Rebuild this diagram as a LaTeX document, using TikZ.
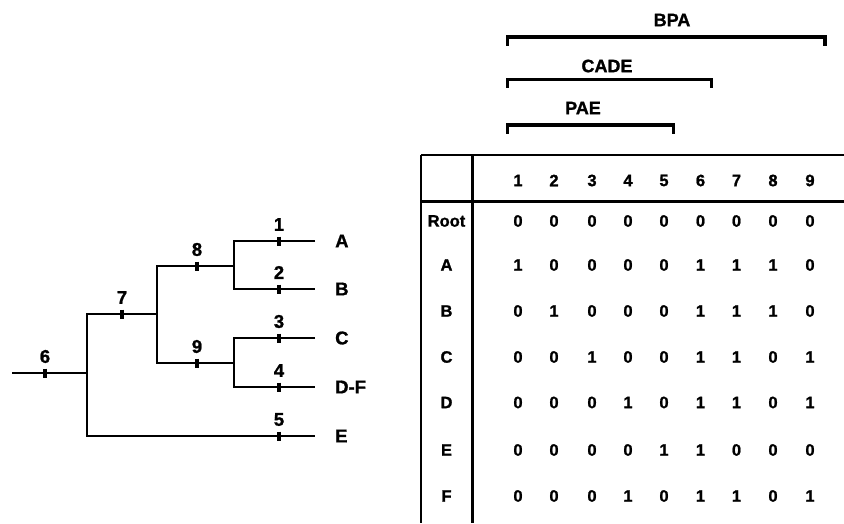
\documentclass[tikz,border=0pt]{standalone}
\usepackage{fontspec}
\setmainfont{Liberation Sans}[BoldFeatures={FakeBold=1.2}]
\begin{document}
\begin{tikzpicture}[x=1pt,y=-1pt,
  branch/.style={line width=2.4pt},
  tickmark/.style={line width=3.2pt},
  treelbl/.style={font=\bfseries\fontsize{18.5}{20}\selectfont, inner sep=0pt},
  taxonlbl/.style={font=\bfseries\fontsize{18.5}{20}\selectfont, inner sep=0pt, anchor=west},
  tabtxt/.style={font=\bfseries\fontsize{16.5}{18}\selectfont, inner sep=0pt},
  frame/.style={line width=2.8pt},
  bracket/.style={line width=3.2pt, line join=miter},
  grouplbl/.style={font=\bfseries\fontsize{18}{20}\selectfont, inner sep=0pt}]
\useasboundingbox (0,0) rectangle (844,523);

% ---------- cladogram ----------
\coordinate (root) at (12,373);
\coordinate (j6) at (87,373);
\coordinate (j7) at (157,314);
\coordinate (j8) at (234,266);
\coordinate (j9) at (234,363);
\coordinate (leafA) at (315,241);
\coordinate (leafB) at (315,289);
\coordinate (leafC) at (315,338);
\coordinate (leafD) at (315,387);
\coordinate (leafE) at (315,436);

\draw[branch] (j7) -| (j6) |- (leafE);
\draw[branch] (root) -- (j6);
\draw[branch] (j8) -| (j7) |- (j9);
\draw[branch] (leafA) -| (j8) |- (leafB);
\draw[branch] (leafC) -| (j9) |- (leafD);

% character changes on the branches
\coordinate (t6) at (45,373);
\coordinate (t7) at (122,314);
\coordinate (t8) at (197,266);
\coordinate (t9) at (197,363);
\coordinate (t1) at (279,241);
\coordinate (t2) at (279,289);
\coordinate (t3) at (279,338);
\coordinate (t4) at (279,387);
\coordinate (t5) at (279,436);
\foreach \k in {1,...,9}{
  \draw[tickmark] (t\k) ++(0,-4.5) -- ++(0,9);
  \node[treelbl] (c\k) at ([yshift=16.5pt]t\k) {\k};
}

% terminal taxa
\node[taxonlbl] (tA) at (335,241) {A};
\node[taxonlbl] (tB) at (335,289) {B};
\node[taxonlbl] (tC) at (335,338) {C};
\node[taxonlbl] (tDF) at (335,387) {D-F};
\node[taxonlbl] (tE) at (335,436) {E};

% ---------- character matrix ----------
\draw[frame] (421,155) -- (844,155);
\draw[frame] (421,201.7) -- (844,201.7);
\draw[frame] (421,155) -- (421,523);
\draw[frame] (472.7,155) -- (472.7,523);

\foreach \c/\x in {1/518,2/554,3/592,4/628,5/664,6/700.5,7/736.5,8/773,9/810}{
  \node[tabtxt] (h\c) at (\x,180.5) {\c};
}

\foreach \r/\name/\y/\vals in {
  0/Root/221/{0,0,0,0,0,0,0,0,0},
  1/A/265/{1,0,0,0,0,1,1,1,0},
  2/B/311/{0,1,0,0,0,1,1,1,0},
  3/C/357/{0,0,1,0,0,1,1,0,1},
  4/D/402.5/{0,0,0,1,0,1,1,0,1},
  5/E/450/{0,0,0,0,1,1,0,0,0},
  6/F/496/{0,0,0,1,0,1,1,0,1}}{
  \node[tabtxt] (row\r) at (446.5,\y) {\name};
  \foreach \v [count=\c] in \vals {
    \node[tabtxt] (cell\r-\c) at (h\c |- row\r) {\v};
  }
}

% ---------- character groupings ----------
\coordinate (bpaL) at (507.5,37);
\coordinate (bpaR) at (825,37);
\coordinate (cadeL) at (507.5,79.3);
\coordinate (cadeR) at (711.7,79.3);
\coordinate (paeL) at (507.5,125);
\coordinate (paeR) at (673.3,125);

\draw[bracket] ([yshift=-8.5pt]bpaL) -- (bpaL) -- (bpaR) -- ([yshift=-8.5pt]bpaR);
\draw[bracket] ([yshift=-8.5pt]cadeL) -- (cadeL) -- (cadeR) -- ([yshift=-8.5pt]cadeR);
\draw[bracket] ([yshift=-8.5pt]paeL) -- (paeL) -- (paeR) -- ([yshift=-8.5pt]paeR);

\node[grouplbl] (bpa) at (672,20) {BPA};
\node[grouplbl] (cade) at (607,66) {CADE};
\node[grouplbl] (pae) at (583,108) {PAE};
\end{tikzpicture}
\end{document}
